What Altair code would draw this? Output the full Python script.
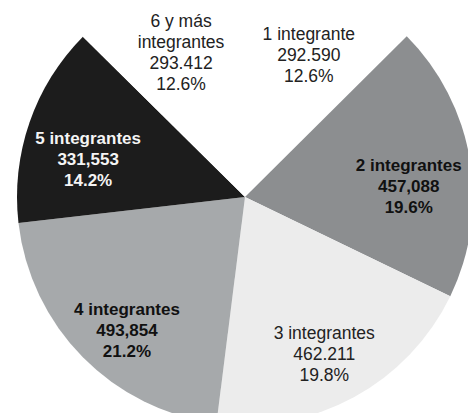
import altair as alt
import pandas as pd

categorias = ["1 integrante", "2 integrantes", "3 integrantes", "4 integrantes", "5 integrantes", "6 y más integrantes"]
etiquetas = ["1 integrante", "2 integrantes", "3 integrantes", "4 integrantes", "5 integrantes", "6 y más\nintegrantes"]
valores = [292590, 457088, 462211, 493854, 331553, 293412]
valores_txt = ["292.590", "457,088", "462.211", "493,854", "331,553", "293.412"]
porcentajes = ["12.6%", "19.6%", "19.8%", "21.2%", "14.2%", "12.6%"]
colores = ["#ffffff", "#8c8e90", "#ececec", "#a6a9ab", "#1c1c1c", "#ffffff"]
color_texto = ["#222222", "#111111", "#222222", "#111111", "#f4f4f4", "#222222"]
estilo = ["normal", "bold", "normal", "bold", "bold", "normal4"]

df = pd.DataFrame({
    "orden": list(range(len(categorias))),
    "categoria": categorias,
    "valor": valores,
    "label": [f"{e}\n{v}\n{p}" for e, v, p in zip(etiquetas, valores_txt, porcentajes)],
    "tcolor": color_texto,
    "estilo": estilo,
})

base = alt.Chart(df).encode(
    theta=alt.Theta("valor:Q", stack=True),
    order=alt.Order("orden:Q", sort="ascending"),
    x=alt.value(245),
    y=alt.value(197),
)

pie = base.mark_arc(radius=228, strokeWidth=0).encode(
    color=alt.Color("categoria:N", scale=alt.Scale(domain=categorias, range=colores), legend=None)
)


def etiquetas_capa(tipo, peso, size, dy):
    return base.mark_text(
        radius=166, lineBreak="\n", lineHeight=21, fontSize=size, dy=dy,
        font="Liberation Sans", align="center", baseline="middle",
        fontWeight=peso,
    ).encode(
        text=alt.condition(alt.datum.estilo == tipo, "label:N", alt.value("")),
        color=alt.Color("tcolor:N", scale=None),
    )


chart = (
    pie
    + etiquetas_capa("normal", "normal", 17.5, -9)
    + etiquetas_capa("normal4", "normal", 17.5, -22)
    + etiquetas_capa("bold", "bold", 17, -4)
).properties(
    width=468, height=413, padding=0,
    autosize=alt.AutoSizeParams(type="none"),
    background="white",
).configure_view(stroke=None)

chart.save("out.html", embed_options={"renderer": "svg", "actions": False})
